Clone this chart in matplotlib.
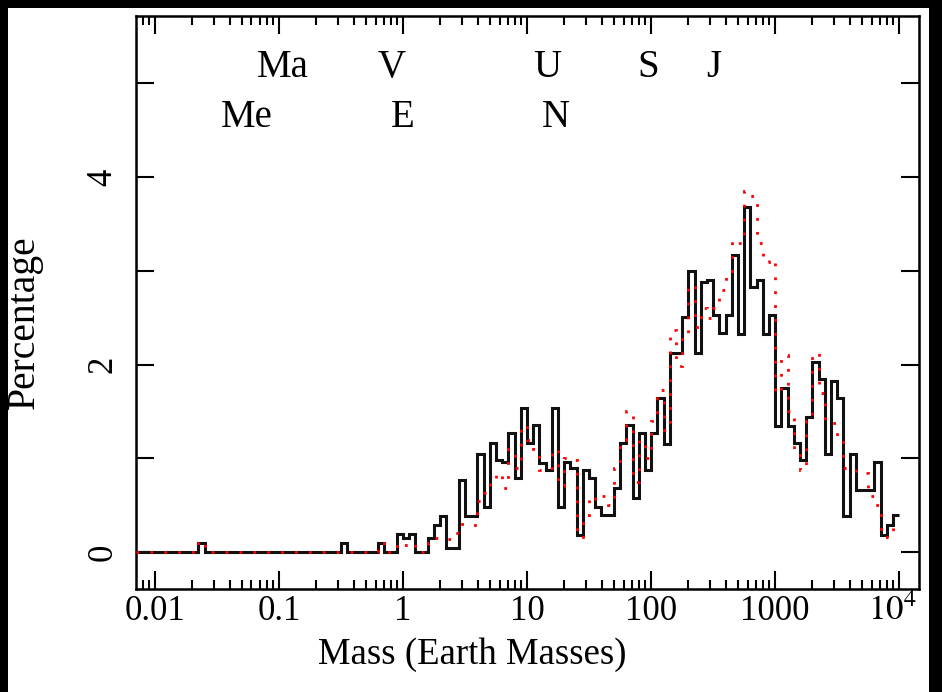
import numpy as np
import matplotlib
matplotlib.use('Agg')
import matplotlib.pyplot as plt
from matplotlib.patches import Rectangle
from matplotlib.transforms import ScaledTranslation
from matplotlib.ticker import FixedLocator, FixedFormatter, LogLocator, NullFormatter

plt.rcParams['font.family'] = ['Liberation Serif', 'DejaVu Serif']
plt.rcParams['mathtext.fontset'] = 'stix'

# ---------------- data ----------------
# log10 bin edges, 20 bins per decade (first 3 bins sit left of 0.01)
log_edges = np.linspace(-2.15, 4.0, 124)

# percentage per bin, solid black histogram
black_pct = [
    0, 0, 0, 0, 0, 0, 0, 0, 0, 0,
    0.10, 0, 0, 0, 0, 0, 0, 0, 0, 0,
    0, 0, 0, 0, 0, 0, 0, 0, 0, 0,
    0, 0, 0, 0.10, 0, 0, 0, 0, 0, 0.10,
    0, 0, 0.19, 0.15, 0.19, 0, 0, 0.15, 0.29, 0.38,
    0.04, 0.04, 0.77, 0.38, 0.38, 1.05, 0.48, 1.16, 0.98, 0.96,
    1.27, 0.79, 1.54, 1.16, 1.36, 0.95, 0.87, 1.54, 0.48, 0.96,
    0.90, 0.18, 0.87, 0.79, 0.48, 0.40, 0.40, 0.68, 1.16, 1.35,
    0.58, 1.27, 0.88, 1.27, 1.64, 1.15, 2.12, 2.12, 2.51, 3.00,
    2.12, 2.88, 2.90, 2.53, 2.34, 2.53, 3.17, 2.33, 3.68, 2.83,
    2.90, 2.33, 2.53, 1.34, 1.75, 1.34, 1.16, 0.98, 1.44, 2.03,
    1.85, 1.05, 1.83, 1.64, 0.38, 1.05, 0.66, 0.66, 0.66, 0.96,
    0.18, 0.29, 0.39,
]

# percentage per bin, red dotted histogram
red_pct = [
    0, 0, 0, 0, 0, 0, 0, 0, 0, 0,
    0.12, 0, 0, 0, 0, 0, 0, 0, 0, 0,
    0, 0, 0, 0, 0, 0, 0, 0, 0, 0,
    0, 0, 0, 0, 0, 0, 0, 0, 0, 0.10,
    0, 0, 0.10, 0.07, 0.10, 0, 0, 0.10, 0.15, 0.14,
    0.14, 0.20, 0.30, 0.29, 0.29, 0.54, 0.63, 0.74, 0.84, 0.68,
    1.10, 0.90, 1.35, 1.20, 1.10, 0.87, 0.90, 1.10, 0.70, 1.00,
    0.98, 0.16, 0.40, 0.60, 0.55, 0.60, 0.50, 0.90, 1.20, 1.50,
    0.75, 1.20, 1.00, 1.40, 1.73, 1.30, 2.37, 1.99, 2.30, 2.85,
    2.40, 2.60, 2.50, 2.60, 2.80, 3.00, 3.33, 3.30, 3.85, 3.80,
    3.30, 3.10, 3.13, 1.70, 2.10, 1.50, 1.10, 0.87, 1.40, 2.12,
    1.70, 1.40, 1.38, 1.20, 0.90, 0.90, 0.84, 0.84, 0.60, 0.50,
    0.16, 0.16, 0.30,
]

# solar system planets (Earth masses)
upper_names = ['Ma', 'V', 'U', 'S', 'J']
upper_mass = [0.107, 0.815, 14.5, 95.2, 317.8]
lower_names = ['Me', 'E', 'N']
lower_mass = [0.0553, 1.0, 17.1]

xticks = [0.01, 0.1, 1, 10, 100, 1000, 1e4]
xtick_labels = ['0.01', '0.1', '1', '10', '100', '1000', r'$10^4$']

# ---------------- plot ----------------
fig = plt.figure(figsize=(9.42, 6.92), dpi=100, facecolor='black')
# white page inside the black frame
fig.patches.append(Rectangle((8/942, 0), 921/942, 684/692, transform=fig.transFigure,
                             facecolor='white', edgecolor='none', zorder=-10))
ax = fig.add_axes([136/942, 1-589/692, 783/942, 573/692])

mass_edges = 10**log_edges
ax.stairs(black_pct, mass_edges, baseline=None, color='#111111', lw=2.2, zorder=2)
ax.stairs(red_pct, mass_edges, baseline=None, color='red', lw=2.0,
          linestyle=(0, (1, 4)), zorder=3)

for name, m in zip(upper_names, upper_mass):
    ax.text(m, 5.07, name, fontsize=28, ha='center', va='baseline')
for name, m in zip(lower_names, lower_mass):
    ax.text(m, 4.54, name, fontsize=28, ha='center', va='baseline')

ax.set_xscale('log')
ax.set_xlim(0.00703, 14450)
ax.set_ylim(-0.395, 5.72)

ax.xaxis.set_major_locator(FixedLocator(xticks))
ax.xaxis.set_major_formatter(FixedFormatter(xtick_labels))
ax.xaxis.set_minor_locator(LogLocator(base=10, subs=np.arange(2, 10), numticks=30))
ax.xaxis.set_minor_formatter(NullFormatter())
ax.set_yticks([0, 2, 4])
ax.set_yticks([1, 3, 5], minor=True)

ax.tick_params(which='both', direction='in', top=True, right=True, width=1.5)
ax.tick_params(axis='x', which='major', length=13, labelsize=25, pad=4)
ax.tick_params(axis='x', which='minor', length=6.5)
ax.tick_params(axis='y', which='both', length=13, labelsize=25, pad=12)
for lbl in ax.get_yticklabels():
    lbl.set_rotation(90)
    lbl.set_va('center')

# pull the 10^4 label a little left so it stays off the frame
last = ax.xaxis.get_major_ticks()[-1].label1
last.set_transform(last.get_transform() + ScaledTranslation(-0.07, 0, fig.dpi_scale_trans))

for sp in ax.spines.values():
    sp.set_linewidth(1.8)

ax.set_xlabel('Mass (Earth Masses)', fontsize=26.5)
ax.xaxis.set_label_coords(0.429, -0.084)
ax.set_ylabel('Percentage', fontsize=28.5)
ax.yaxis.set_label_coords(-0.119, 0.466)

fig.savefig('out.png', dpi=100, facecolor=fig.get_facecolor())
